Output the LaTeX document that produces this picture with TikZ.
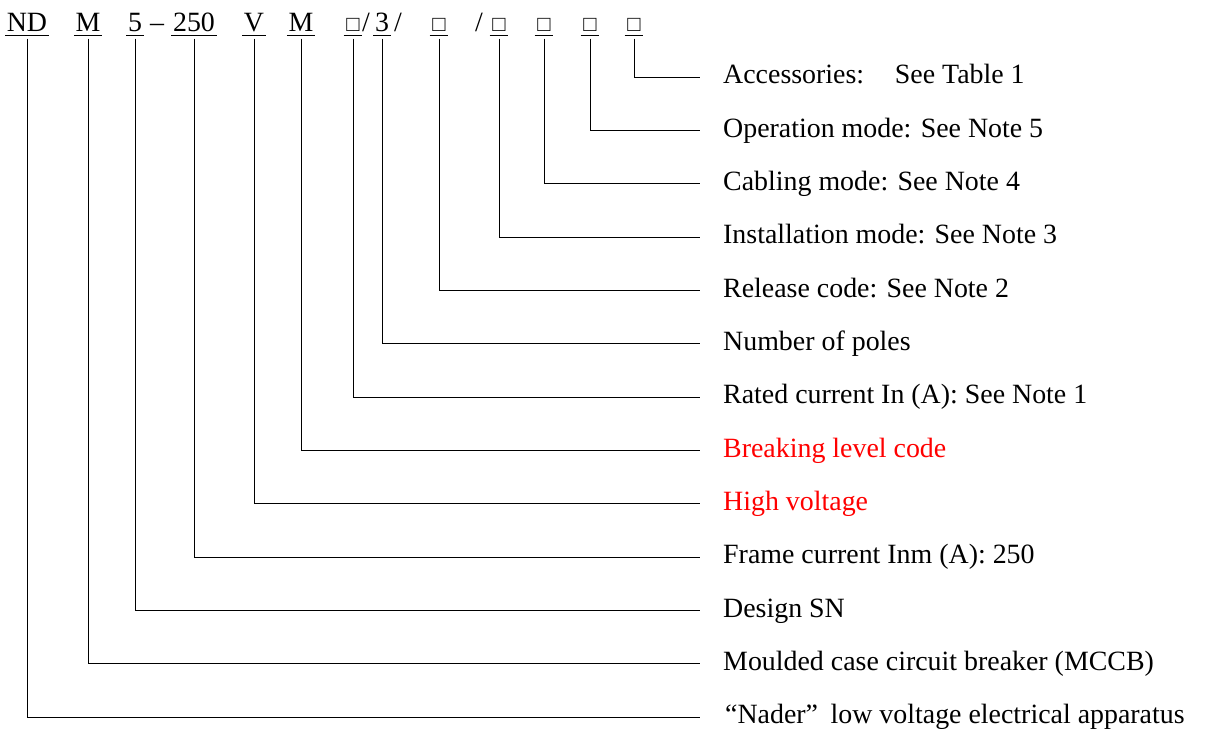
\documentclass[tikz,border=0pt]{standalone}
\usepackage{fontspec}
\setmainfont{Liberation Serif}
\begin{document}
\begin{tikzpicture}[x=1bp,y=1bp,
  code/.style={inner xsep=1.5bp,inner ysep=3.5bp,text depth=0pt,anchor=base,font=\fontsize{28}{33}\selectfont},
  plain/.style={inner sep=0pt,anchor=base,font=\fontsize{28}{33}\selectfont},
  box/.style={code,font=\fontsize{22}{26}\selectfont,inner xsep=2.5bp},
  lab/.style={inner sep=0pt,anchor=base west,font=\fontsize{28}{33}\selectfont},
  red/.style={text=red},
  uline/.style={line width=1.1bp},
  conn/.style={line width=0.9bp}]
\useasboundingbox (0,0) rectangle (1212,-729);
% top code row (baseline y=-32)
\node[code] (nd)  at (27,-32) {ND};
\node[code] (m1)  at (88,-32) {M};
\node[code] (n5)  at (135,-32) {5};
\node[plain] (d1) at (157,-32) {–};
\node[code] (n250) at (194,-32) {250};
\node[code] (v)   at (254,-32) {V};
\node[code] (m2)  at (301,-32) {M};
\node[box] (b1)   at (353,-32) {□};
\node[plain] (s1) at (366,-32) {/};
\node[code] (n3)  at (382,-32) {3};
\node[plain] (s2) at (398,-32) {/};
\node[box] (b2)   at (439,-32) {□};
\node[plain] (s3) at (479,-32) {/};
\node[box] (b3)   at (499,-32) {□};
\node[box] (b4)   at (544,-32) {□};
\node[box] (b5)   at (590,-32) {□};
\node[box] (b6)   at (634,-32) {□};
\foreach \n in {nd,m1,n5,n250,v,m2,b1,n3,b2,b3,b4,b5,b6}
  \draw[uline] (\n.south west) -- (\n.south east);
% labels
\foreach \i/\t/\s in {
  0/{Accessories:\hspace{1.1em}See Table 1}/,
  1/{Operation mode: See Note 5}/,
  2/{Cabling mode: See Note 4}/,
  3/{Installation mode: See Note 3}/,
  4/{Release code: See Note 2}/,
  5/{Number of poles}/,
  6/{Rated current In (A): See Note 1}/,
  7/{Breaking level code}/red,
  8/{High voltage}/red,
  9/{Frame current Inm (A): 250}/,
  10/{Design SN}/,
  11/{Moulded case circuit breaker (MCCB)}/,
  12/{\hspace{2bp}“Nader”\hspace{0.45em}low voltage electrical apparatus}/}
{
  \coordinate (e\i) at (700,{-77-53.33*\i});
  \node[lab,\s] (l\i) at (723,{-77-53.33*\i-7}) {\t};
}
% connectors
\foreach \n/\i in {b6/0,b5/1,b4/2,b3/3,b2/4,n3/5,b1/6,m2/7,v/8,n250/9,n5/10,m1/11,nd/12}
  \draw[conn] ([yshift=-3bp]\n.south) |- (e\i);
\end{tikzpicture}
\end{document}
